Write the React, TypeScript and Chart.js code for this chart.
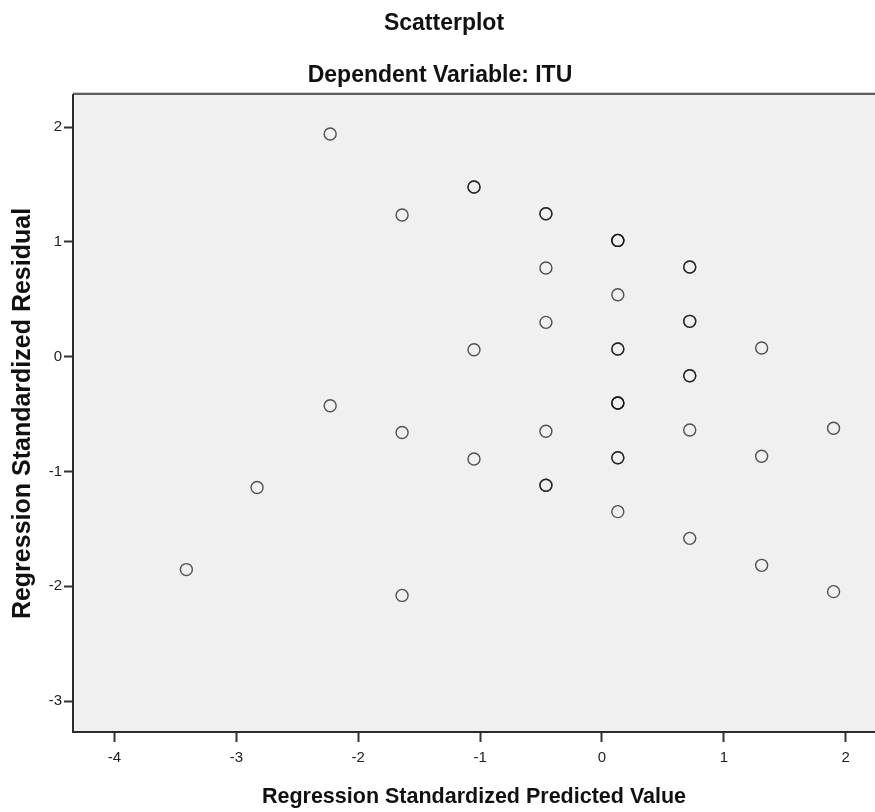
import React, { useEffect, useRef } from "react";
import { Chart, registerables } from "chart.js";

Chart.register(...registerables);

const chartTitle = "Scatterplot";
const chartSubtitle = "Dependent Variable: ITU";
const xAxisTitle = "Regression Standardized Predicted Value";
const yAxisTitle = "Regression Standardized Residual";

// Regression Standardized Predicted Value (x) for each case
const predictedValues = [
  -3.41,
  -2.83,
  -2.23, -2.23,
  -1.64, -1.64, -1.64,
  -1.05, -1.05, -1.05, -1.05,
  -0.46, -0.46, -0.46, -0.46, -0.46, -0.46, -0.46,
  0.13, 0.13, 0.13, 0.13, 0.13, 0.13, 0.13, 0.13, 0.13, 0.13, 0.13, 0.13,
  0.72, 0.72, 0.72, 0.72, 0.72, 0.72, 0.72, 0.72,
  1.31, 1.31, 1.31,
  1.9, 1.9,
];

// Regression Standardized Residual (y) for each case
const residualValues = [
  -1.855,
  -1.14,
  1.94, -0.427,
  1.234, -0.66, -2.08,
  1.478, 1.478, 0.061, -0.891,
  1.246, 1.246, 0.773, 0.299, -0.65, -1.12, -1.12,
  1.013, 1.013, 1.013, 0.54, 0.067, 0.067, -0.403, -0.403, -0.403, -0.88, -0.88, -1.35,
  0.781, 0.781, 0.308, 0.308, -0.166, -0.166, -0.639, -1.583,
  0.076, -0.868, -1.818,
  -0.624, -2.047,
];

const xTickValues = [-4, -3, -2, -1, 0, 1, 2];
const yTickValues = [-3, -2, -1, 0, 1, 2];

const FONT = "'Liberation Sans', Arial, sans-serif";

const framePlugin = {
  id: "spssFrame",
  beforeDraw(chart: any) {
    const { ctx, chartArea } = chart;
    const { left, top, bottom } = chartArea;
    ctx.save();
    ctx.fillStyle = "#ffffff";
    ctx.fillRect(0, 0, chart.width, chart.height);
    ctx.fillStyle = "#f0f0f0";
    ctx.fillRect(left, top, chart.width - left, bottom - top);
    ctx.fillStyle = "#cfcfcf";
    ctx.fillRect(left, top - 3, chart.width - left, 1);
    ctx.fillStyle = "#5e5e5e";
    ctx.fillRect(left, top - 2, chart.width - left, 2);
    ctx.restore();
  },
  afterDraw(chart: any) {
    const { ctx } = chart;
    ctx.save();
    ctx.fillStyle = "#111111";
    ctx.textAlign = "center";
    ctx.textBaseline = "alphabetic";
    ctx.font = `bold 23px ${FONT}`;
    ctx.fillText(chartTitle, 444, 30);
    ctx.fillText(chartSubtitle, 440, 82);
    ctx.restore();
  },
};

export default function App() {
  const canvasRef = useRef<HTMLCanvasElement | null>(null);

  useEffect(() => {
    if (!canvasRef.current) return;
    const points = predictedValues.map((x, i) => ({ x, y: residualValues[i] }));
    const chart = new Chart(canvasRef.current, {
      type: "scatter",
      data: {
        datasets: [
          {
            data: points,
            pointStyle: "circle",
            pointRadius: 6,
            pointHoverRadius: 6,
            pointBorderWidth: 1.4,
            pointBackgroundColor: "rgba(0,0,0,0)",
            pointBorderColor: "rgba(20,20,20,0.72)",
          },
        ],
      },
      options: {
        animation: false,
        responsive: true,
        maintainAspectRatio: false,
        devicePixelRatio: 1,
        layout: { autoPadding: false, padding: { top: 95, right: 0, bottom: 0, left: 0 } },
        plugins: {
          legend: { display: false },
          tooltip: { enabled: false },
          title: { display: false },
        },
        scales: {
          x: {
            type: "linear",
            min: -4.34,
            max: 2.24,
            afterBuildTicks: (scale: any) => {
              scale.ticks = xTickValues.map((v) => ({ value: v }));
            },
            afterFit: (scale: any) => {
              scale.height = 80;
              scale.paddingLeft = 0;
              scale.paddingRight = 0;
            },
            ticks: {
              autoSkip: false,
              maxRotation: 0,
              padding: 7,
              color: "#222",
              font: { family: FONT, size: 15 },
              callback: (v: any) => String(v),
            },
            grid: {
              drawOnChartArea: false,
              drawTicks: true,
              tickLength: 10,
              tickColor: "#333",
              tickWidth: 2,
            },
            border: { display: true, color: "#2b2b2b", width: 2 },
            title: {
              display: true,
              text: xAxisTitle,
              color: "#111",
              font: { family: FONT, size: 21.5, weight: "bold" },
              padding: { top: 0, bottom: 2 },
            },
          },
          y: {
            type: "linear",
            min: -3.27,
            max: 2.28,
            afterBuildTicks: (scale: any) => {
              scale.ticks = yTickValues.map((v) => ({ value: v }));
            },
            afterFit: (scale: any) => {
              scale.width = 73;
              scale.paddingTop = 0;
              scale.paddingBottom = 0;
            },
            ticks: {
              autoSkip: false,
              padding: 2,
              color: "#222",
              font: { family: FONT, size: 15 },
              callback: (v: any) => String(v),
            },
            grid: {
              drawOnChartArea: false,
              drawTicks: true,
              tickLength: 9,
              tickColor: "#333",
              tickWidth: 2,
            },
            border: { display: true, color: "#2b2b2b", width: 2 },
            title: {
              display: true,
              text: yAxisTitle,
              color: "#111",
              font: { family: FONT, size: 25, weight: "bold" },
              padding: { top: 8, bottom: 0 },
            },
          },
        },
      } as any,
      plugins: [framePlugin],
    });
    return () => chart.destroy();
  }, []);

  return (
    <div style={{ position: "absolute", left: 0, top: 0, width: 875, height: 812, background: "#fff" }}>
      <canvas ref={canvasRef} />
    </div>
  );
}
